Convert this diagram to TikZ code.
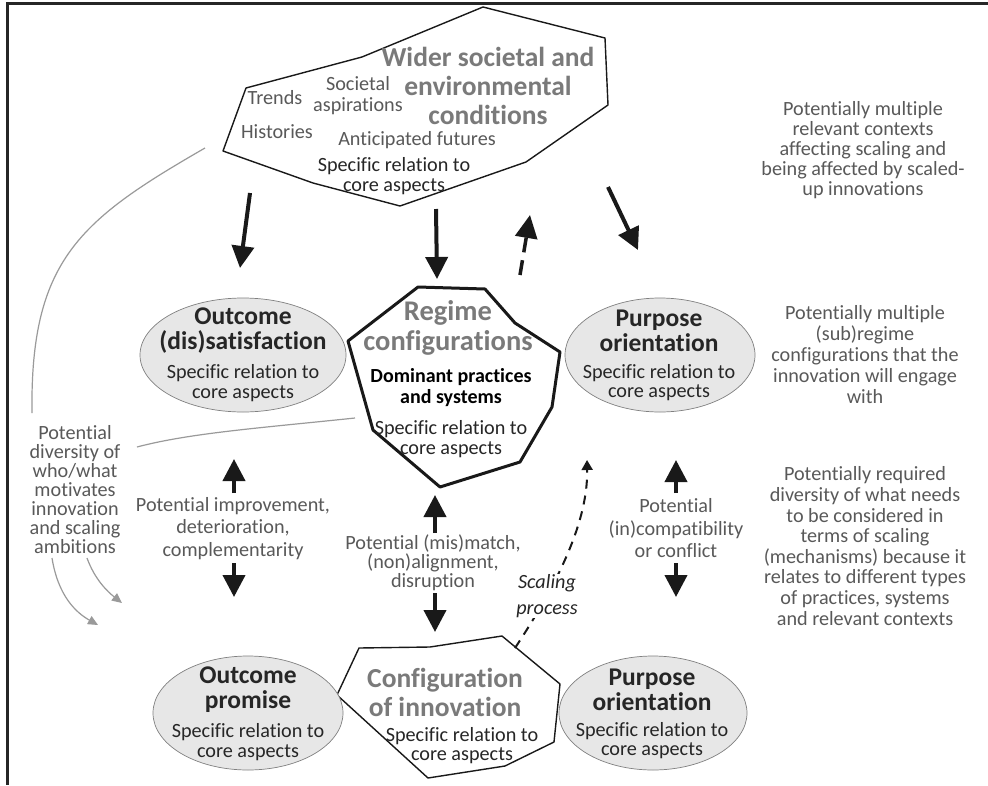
\documentclass[tikz,border=0pt]{standalone}
\usepackage{fontspec}
\setmainfont{Carlito}[Ligatures=NoCommon]
\usetikzlibrary{arrows.meta,shapes.geometric}

\definecolor{titlegray}{HTML}{7A7A7A}
\definecolor{softtext}{HTML}{595959}
\definecolor{darktext}{HTML}{262626}
\definecolor{ovalfill}{HTML}{E7E7E7}
\definecolor{ovalline}{HTML}{808080}
\definecolor{guide}{HTML}{9A9A9A}

\newcommand\txt{\fontsize{20.2}{21}\selectfont}
\newcommand\ttl{\fontsize{27.5}{29}\selectfont\bfseries}
\newcommand\hd{\fontsize{25.5}{25}\selectfont\bfseries}

\tikzset{
  x=1pt, y=-1pt,
  every node/.style={inner sep=0pt, font=\txt, text=softtext},
  oval/.style={ellipse, draw=ovalline, fill=ovalfill, line width=0.7pt,
    minimum width=#1, minimum height=114pt},
  oval/.default=190pt,
  title/.style={font=\ttl, text=titlegray, align=center},
  head/.style={font=\hd, text=darktext, align=center},
  rel/.style={align=center, text=darktext, font=\fontsize{20.2}{19.5}\selectfont},
  note/.style={align=center, text=softtext},
  bigarrow/.style={line width=4pt, draw=black!90, -{Triangle[width=22pt,length=22pt]}},
  dasharrow/.style={line width=3.5pt, draw=black!90, dash pattern=on 15pt off 8pt,
    -{Triangle[width=22pt,length=23pt]}},
  scalearrow/.style={line width=2pt, draw=black!90, dash pattern=on 9pt off 7pt,
    -{Triangle[width=11pt,length=10pt]}},
  guideline/.style={line width=1.2pt, draw=guide},
  guidearrow/.style={line width=1.2pt, draw=guide, -{Triangle[width=9pt,length=10pt,fill=guide]}},
  thinpoly/.style={line width=1.4pt, draw=black!90, line join=round},
  thickpoly/.style={line width=3pt, draw=black!90, line join=round},
}

\begin{document}
\begin{tikzpicture}
\useasboundingbox (0,0) rectangle (988,785);
\fill[white] (0,0) rectangle (988,785);

% frame
\draw[line width=3pt, black!85] (988,3) -- (7,3) -- (7,785);

% wider context polygon
\draw[thinpoly] (483,7) -- (605,38) -- (608,105) -- (526,162) -- (400,206)
  -- (313,183) -- (223,151) -- (246,88) -- (362,57) -- cycle;
\node[title] (wider) at (488,86) {Wider societal and\\environmental\\conditions};
\node (trends) at (275,98) {Trends};
\node (hist) at (277,132) {Histories};
\node[note] (aspir) at (358,96) {Societal\\aspirations};
\node (antic) at (417,140) {Anticipated futures};
\node[rel] (widerrel) at (394,176) {Specific relation to\\core aspects};

% regime polygon
\draw[thickpoly] (418,287) -- (485,289) -- (515,323) -- (560,352) -- (552,407)
  -- (520,462) -- (440,487) -- (373,430) -- (348,341) -- cycle;
\node[title, font=\fontsize{28.5}{30}\selectfont\bfseries] (regime) at (448,328) {Regime\\configurations};
\node[align=center, text=black, font=\fontsize{20}{21}\selectfont\bfseries] (dominant) at (451,387.5) {Dominant practices\\and systems};
\node[rel] (regimerel) at (451,439) {Specific relation to\\core aspects};

% innovation polygon
\draw[thinpoly] (337,695) -- (359,648) -- (430,647) -- (502,636) -- (560,684)
  -- (554,742) -- (505,766) -- (428,778) -- cycle;
\node[title] (innov) at (445,692.5) {Configuration\\of innovation};
\node[rel] (innovrel) at (462,745.5) {Specific relation to\\core aspects};

% ellipses
\node[oval=206pt] (odis) at (243,355) {};
\node[head] (odist) at (243,330.5) {Outcome\\(dis)satisfaction};
\node[rel] (odisr) at (243,383) {Specific relation to\\core aspects};

\node[oval=190pt] (ptop) at (660,355) {};
\node[head] (ptopt) at (659,330.5) {Purpose\\orientation};
\node[rel] (ptopr) at (659,382.5) {Specific relation to\\core aspects};

\node[oval=190pt] (oprom) at (248,713) {};
\node[head] (opromt) at (248,689.5) {Outcome\\promise};
\node[rel] (opromr) at (248,742) {Specific relation to\\core aspects};

\node[oval=188pt] (pbot) at (653,713) {};
\node[head] (pbott) at (652,689.5) {Purpose\\orientation};
\node[rel] (pbotr) at (652,740.5) {Specific relation to\\core aspects};

% side notes
\node[note, font=\fontsize{20.2}{20}\selectfont] (ctxnote) at (863,150) {Potentially multiple\\relevant contexts\\affecting scaling and\\being affected by scaled-\\up innovations};
\node[note, font=\fontsize{20.2}{20.8}\selectfont] (regnote) at (865,354.5) {Potentially multiple\\(sub)regime\\configurations that the\\innovation will engage\\with};
\node[note, font=\fontsize{20.2}{20.6}\selectfont] (divnote) at (865,546) {Potentially required\\diversity of what needs\\to be considered in\\terms of scaling\\(mechanisms) because it\\relates to different types\\of practices, systems\\and relevant contexts};
\node[note, font=\fontsize{20.2}{19}\selectfont] (motive) at (75,490) {Potential\\diversity of\\who/what\\motivates\\innovation\\and scaling\\ambitions};

% relation labels
\node[note, font=\fontsize{20.2}{22.5}\selectfont] (lrel) at (233,528.5) {Potential improvement,\\deterioration,\\complementarity};
\node[note, font=\fontsize{20.2}{19}\selectfont] (crel) at (433,563) {Potential (mis)match,\\(non)alignment,\\disruption};
\node[note, font=\fontsize{20.2}{22.5}\selectfont] (rrel) at (676,528.5) {Potential\\(in)compatibility\\or conflict};

% arrow end points
\coordinate (a1s) at (250,193); \coordinate (a1e) at (240,268);
\coordinate (a2s) at (436,209); \coordinate (a2e) at (437,279);
\coordinate (a3s) at (608,187); \coordinate (a3e) at (638,250);
\coordinate (a4s) at (520,275); \coordinate (a4e) at (530,215);
\coordinate (lus) at (234,493); \coordinate (lue) at (234,459);
\coordinate (lds) at (234,563); \coordinate (lde) at (234,597);
\coordinate (cus) at (435,533); \coordinate (cue) at (435,495);
\coordinate (cds) at (435,593); \coordinate (cde) at (435,632);
\coordinate (rus) at (676,493); \coordinate (rue) at (676,460);
\coordinate (rds) at (676,563); \coordinate (rde) at (676,597);
\coordinate (scs) at (515,648); \coordinate (sce) at (587,460);
\coordinate (g1s) at (205,148); \coordinate (g1e) at (32,413);
\coordinate (g2s) at (355,418); \coordinate (g2e) at (137,447);
\coordinate (m1s) at (52,558); \coordinate (m1e) at (98,625);
\coordinate (m2s) at (87,558); \coordinate (m2e) at (122,603);

% context influences
\draw[bigarrow] (a1s) -- (a1e);
\draw[bigarrow] (a2s) -- (a2e);
\draw[bigarrow] (a3s) -- (a3e);
\draw[dasharrow] (a4s) -- (a4e);

% relations between configurations
\draw[bigarrow] (lus) -- (lue);
\draw[bigarrow] (lds) -- (lde);
\draw[bigarrow] (cus) -- (cue);
\draw[bigarrow] (cds) -- (cde);
\draw[bigarrow] (rus) -- (rue);
\draw[bigarrow] (rds) -- (rde);

% scaling process
\draw[scalearrow] (scs) .. controls (560,580) and (588,520) .. (sce);
\node[fill=white, align=center, text=darktext, font=\fontsize{20.2}{26}\selectfont\itshape] (scaling) at (547,596) {Scaling\\process};

% motivation guides
\draw[guideline] (g1s) .. controls (80,220) and (30,260) .. (g1e);
\draw[guideline] (g2s) .. controls (260,428) and (190,433) .. (g2e);
\draw[guidearrow] (m1s) .. controls (58,595) and (75,612) .. (m1e);
\draw[guidearrow] (m2s) .. controls (95,580) and (108,592) .. (m2e);
\end{tikzpicture}
\end{document}
